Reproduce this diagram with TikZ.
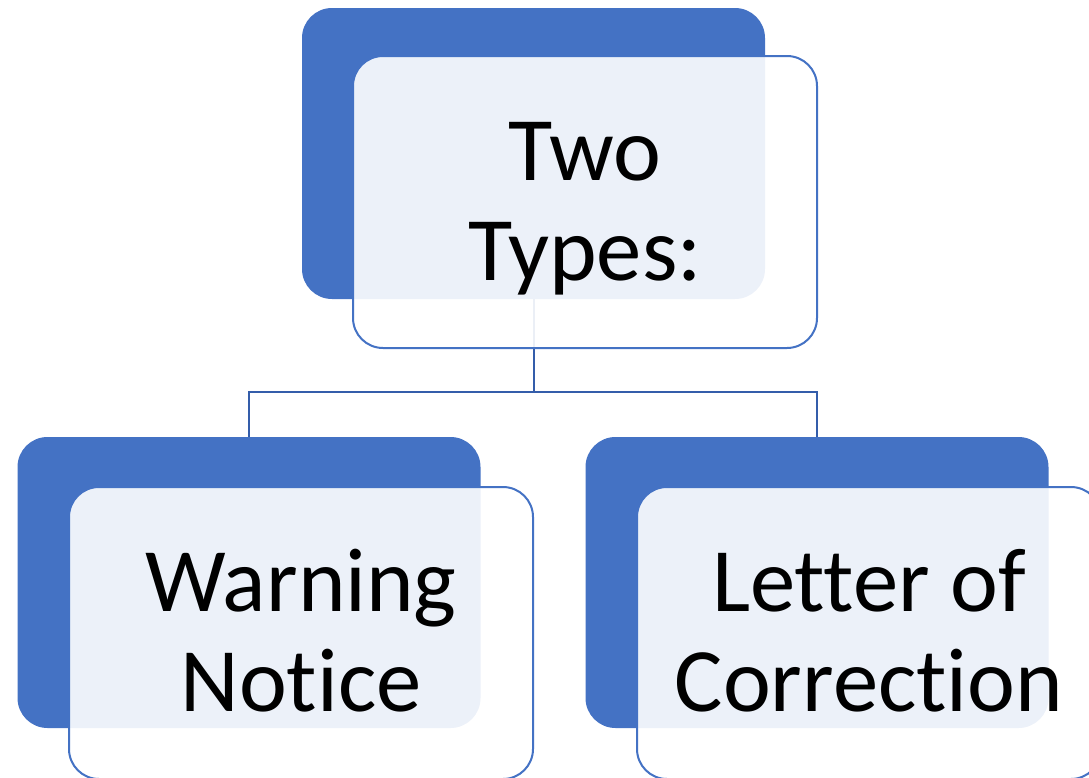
\documentclass[tikz,border=0pt]{standalone}
\usepackage{fontspec}
\setmainfont{Carlito}[Ligatures=NoCommon]
\usepackage{tikz}
\definecolor{accent}{RGB}{68,114,196}
\definecolor{linkblue}{RGB}{52,93,170}
\tikzset{
    backbox/.style={draw=none, fill=accent, rounded corners=22.5pt,
        minimum width=347.25pt, minimum height=218.25pt, inner sep=0pt},
    frontbox/.style={draw=accent, line width=1.5pt, fill=white, fill opacity=0.9,
        rounded corners=22.5pt, minimum width=348pt, minimum height=219pt, inner sep=0pt},
    caption/.style={align=center, font=\fontsize{68}{75}\selectfont, inner sep=0pt},
    link/.style={draw=linkblue, line width=1.5pt}
}

\begin{document}
\begin{tikzpicture}[x=0.75pt,y=-0.75pt]
\useasboundingbox (0,0) rectangle (1089,778);
\clip (0,0) rectangle (1089,778);
\node[style={backbox}] (topback) at (533.5,153.5) {};
\node[style={backbox}] (leftback) at (249,582.5) {};
\node[style={backbox}] (rightback) at (817,582.5) {};
\draw[style={link}]
  (topback.south) -- ++(0,93) coordinate (fork) -| (leftback.north);
\draw[style={link}]
  (fork) -| (rightback.north);
\node[style={frontbox}] (topfront) at (585,202) {};
\node[style={frontbox}] (leftfront) at (301,633) {};
\node[style={frontbox}] (rightfront) at (869,633) {};
\node[style={caption}] (toptext) at ([yshift=-6pt]topfront.center) {\strut Two\\\strut Types:};
\node[style={caption}] (lefttext) at ([yshift=-6pt]leftfront.center) {\strut Warning\\\strut Notice};
\node[style={caption}] (righttext) at ([yshift=-6pt]rightfront.center) {\strut Letter of\\\strut Correction};
\end{tikzpicture}
\end{document}
